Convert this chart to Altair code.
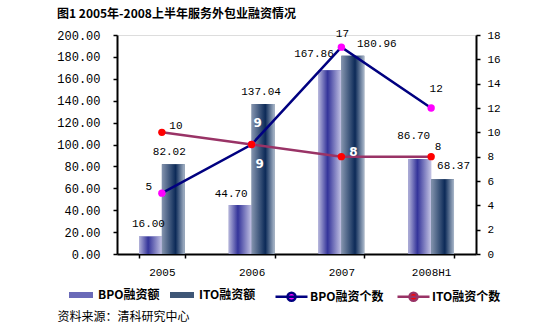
import altair as alt
import pandas as pd

# ---- data ----
years = ["2005", "2006", "2007", "2008H1"]
bpo_amount = [16.00, 44.70, 167.86, 86.70]
ito_amount = [82.02, 137.04, 180.96, 68.37]
bpo_count = [5, 9, 17, 12]
ito_count = [10, 9, 8, 8]

bar_series = ["BPO融资额", "ITO融资额"]
cnt_series = ["BPO融资个数", "ITO融资个数"]

title_text = "图1 2005年-2008上半年服务外包业融资情况"
source_text = "资料来源：清科研究中心"

amt_df = pd.DataFrame({
    "year": years * 2,
    "series": [bar_series[0]] * 4 + [bar_series[1]] * 4,
    "value": bpo_amount + ito_amount,
})
amt_df["label"] = amt_df["value"].map(lambda v: f"{v:.2f}")

cnt_df = pd.DataFrame({
    "year": years * 2,
    "series": [cnt_series[0]] * 4 + [cnt_series[1]] * 4,
    "value": bpo_count + ito_count,
})
cnt_df["label"] = cnt_df["value"].astype(str)

MONO = "Liberation Mono"
CJK = "Noto Sans CJK SC"

x_axis = alt.Axis(title=source_text, tickBand="extent", labelAngle=0,
                  labelFont=MONO, labelFontSize=11, labelPadding=8,
                  tickSize=4, tickWidth=1.5, tickColor="black",
                  domainColor="black", domainWidth=2, labelColor="black",
                  titleFont=CJK, titleFontSize=12, titleFontWeight="normal",
                  titleAnchor="start", titleAlign="left",
                  titleX=-60, titleY=57, titleColor="black")
x_enc = alt.X("year:N", sort=years,
              scale=alt.Scale(paddingInner=0.49, paddingOuter=0.245), axis=x_axis)
xoff = alt.XOffset("series:N", scale=alt.Scale(domain=bar_series))

amt_axis = alt.Axis(orient="left", title=None, values=list(range(0, 201, 20)),
                    format=".2f", labelFont=MONO, labelFontSize=12, labelColor="black",
                    labelPadding=13, tickSize=4, tickColor="black",
                    tickWidth=1.5, domainColor="black", domainWidth=2, grid=False)
y_amt = alt.Y("value:Q", scale=alt.Scale(domain=[0, 200], nice=False), axis=amt_axis)

cnt_axis = alt.Axis(orient="right", title=None, values=list(range(0, 19, 2)),
                    format="d", labelFont=MONO, labelFontSize=11, labelColor="black",
                    labelPadding=7, tickSize=4, tickColor="black",
                    tickWidth=1.5, domainColor="black", domainWidth=2, grid=False)
y_cnt = alt.Y("value:Q", scale=alt.Scale(domain=[0, 18], nice=False), axis=cnt_axis)

bpo_grad = alt.Gradient(gradient="linear", x1=0, x2=1, y1=0, y2=0, stops=[
    alt.GradientStop(offset=0, color="#b4b4da"),
    alt.GradientStop(offset=0.4, color="#34349a"),
    alt.GradientStop(offset=1, color="#c4c4e4"),
])
ito_grad = alt.Gradient(gradient="linear", x1=0, x2=1, y1=0, y2=0, stops=[
    alt.GradientStop(offset=0, color="#8494ae"),
    alt.GradientStop(offset=0.6, color="#0c2a58"),
    alt.GradientStop(offset=1, color="#aab8ca"),
])

amt_base = alt.Chart(amt_df)

# solid bars underneath, providing the legend
bars_solid = amt_base.mark_bar().encode(
    x=x_enc, xOffset=xoff, y=y_amt,
    color=alt.Color("series:N",
                    scale=alt.Scale(domain=bar_series, range=["#6a6ab8", "#3e5676"]),
                    legend=alt.Legend(title=None, orient="none", direction="horizontal",
                                      legendX=-48, legendY=248,
                                      symbolType="M-1,-0.25H1V0.25H-1Z", symbolSize=576,
                                      symbolStrokeWidth=0,
                                      labelFont=CJK, labelFontSize=12, labelFontWeight="bold",
                                      labelColor="black", labelOffset=5, columnPadding=10,
                                      labelLimit=200, padding=0)),
)
bars_bpo = amt_base.transform_filter(alt.datum.series == bar_series[0]).mark_bar(fill=bpo_grad).encode(
    x=x_enc, xOffset=xoff, y=y_amt)
bars_ito = amt_base.transform_filter(alt.datum.series == bar_series[1]).mark_bar(fill=ito_grad).encode(
    x=x_enc, xOffset=xoff, y=y_amt)

# value labels: (series index, year) -> (dx, dy)
amt_offsets = {
    (0, "2005"): (-2, -12), (1, "2005"): (-4, -12),
    (0, "2006"): (-9, -11), (1, "2006"): (-2, -12),
    (0, "2007"): (-16, -16), (1, "2007"): (24, -12),
    (0, "2008H1"): (-6, -23), (1, "2008H1"): (11, -13),
}
amt_labels = []
for (si, yr), (dx, dy) in amt_offsets.items():
    amt_labels.append(
        amt_base.transform_filter((alt.datum.series == bar_series[si]) & (alt.datum.year == yr))
        .mark_text(font=MONO, fontSize=11, color="black", dx=dx, dy=dy, baseline="middle")
        .encode(x=x_enc, xOffset=xoff, y=y_amt, text="label:N")
    )

amount_layer = alt.layer(bars_solid, bars_bpo, bars_ito, *amt_labels)

cnt_base = alt.Chart(cnt_df)
stroke_scale = alt.Scale(domain=cnt_series, range=["#000080", "#993366"])
fill_scale = alt.Scale(domain=cnt_series, range=["#ff00ff", "#ff0000"])
cnt_legend = alt.Legend(title=None, orient="none", direction="horizontal",
                        legendX=157, legendY=244,
                        symbolType="M-1,0L1,0M-0.25,0A0.25,0.25 0 1 0 0.25,0A0.25,0.25 0 1 0 -0.25,0",
                        symbolSize=1024, symbolStrokeWidth=2.5, symbolOpacity=1,
                        labelFont=CJK, labelFontSize=12, labelFontWeight="bold",
                        labelColor="black", labelOffset=1, columnPadding=8,
                        labelLimit=200, padding=0)
lines = cnt_base.mark_line(strokeWidth=2.5).encode(
    x=x_enc, y=y_cnt,
    stroke=alt.Stroke("series:N", scale=stroke_scale, legend=cnt_legend),
)
pts = cnt_base.mark_circle(size=55, opacity=1, strokeWidth=0).encode(
    x=x_enc, y=y_cnt,
    stroke=alt.Stroke("series:N", scale=stroke_scale, legend=cnt_legend),
    fill=alt.Fill("series:N", scale=fill_scale, legend=cnt_legend),
)

# count labels: (series index, year) -> (dx, dy, white/bold)
cnt_offsets = {
    (0, "2005"): (-13, -6, False), (0, "2006"): (8, 19, True),
    (0, "2007"): (1, -13, False), (0, "2008H1"): (5, -19, False),
    (1, "2005"): (14, -6, False), (1, "2006"): (6, -22, True),
    (1, "2007"): (12, -5, True), (1, "2008H1"): (7, -10, False),
}
cnt_labels = []
for (si, yr), (dx, dy, inside) in cnt_offsets.items():
    cnt_labels.append(
        cnt_base.transform_filter((alt.datum.series == cnt_series[si]) & (alt.datum.year == yr))
        .mark_text(font=MONO if not inside else "DejaVu Sans",
                   fontSize=11 if not inside else 12,
                   fontWeight="bold" if inside else "normal",
                   color="white" if inside else "black",
                   dx=dx, dy=dy, baseline="middle")
        .encode(x=x_enc, y=y_cnt, text="label:N")
    )

count_layer = alt.layer(lines, pts, *cnt_labels)

chart = alt.layer(amount_layer, count_layer).resolve_scale(
    y="independent"
).properties(
    width=359, height=219,
    autosize=alt.AutoSizeParams(type="none"),
    padding={"left": 117, "top": 35, "right": 81, "bottom": 77},
    title=alt.TitleParams(title_text, anchor="start", frame="group", dx=-60, offset=7,
                          font=CJK, fontSize=12, fontWeight="bold", color="black"),
).configure_view(stroke=None).configure(background="white")

chart.save("out.html", embed_options={"renderer": "svg", "actions": False})
